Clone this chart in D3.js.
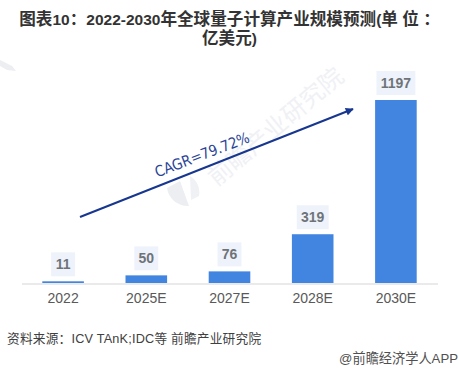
<!DOCTYPE html>
<html>
<head>
<meta charset="utf-8">
<script src="https://cdn.jsdelivr.net/npm/d3@7"></script>
<style>
  html, body { margin: 0; padding: 0; background: #fff; }
  svg { display: block; }
  text { font-family: "Liberation Sans", "Noto Sans CJK SC", sans-serif; }
</style>
</head>
<body>
<div class="canvas"></div>
<script>
// data
const categories = ['2022', '2025E', '2027E', '2028E', '2030E'];
const values = [11, 50, 76, 319, 1197];
const titleLines = ['图表10：2022-2030年全球量子计算产业规模预测(单 位 ：', '亿美元)'];
const cagrLabel = 'CAGR=79.72%';
const sourceLabel = '资料来源：ICV TAnK;IDC等 前瞻产业研究院';
const creditLabel = '@前瞻经济学人APP';
const watermarkLabel = '前瞻产业研究院';

//dimensions
const dims = { width: 459, height: 371 };
const plot = { left: 21.5, right: 437.5, top: 100, bottom: 283 };

const svg = d3.select('.canvas')
  .append('svg')
  .attr('width', dims.width)
  .attr('height', dims.height);

//scales
const x = d3.scaleBand()
  .domain(categories)
  .range([plot.left, plot.right])
  .paddingInner(0.5)
  .paddingOuter(0.25);

const y = d3.scaleLinear()
  .domain([0, 1197])
  .range([plot.bottom, plot.top]);

//watermark sits behind the chart
const mark = svg.append('g');

mark.append('text')
  .attr('transform', 'translate(281, 133) rotate(-40)')
  .attr('text-anchor', 'middle')
  .attr('font-size', 24)
  .attr('fill', '#f0f1f5')
  .text(watermarkLabel);

mark.append('path')
  .attr('d', 'M0 60 L12 66 L16 71 L7 70 L0 66 Z')
  .attr('fill', '#eceef2');

mark.append('path')
  .attr('d', 'M167 188 A21 21 0 0 0 189 206 L180 181 Z')
  .attr('fill', '#eceef2');

mark.append('path')
  .attr('d', 'M190 176 A19 19 0 0 1 199 196 L191 200 Z')
  .attr('fill', '#f0f1f5');

//title, chinese glyphs run a little larger than the latin ones
svg.append('g')
  .selectAll('text')
  .data(titleLines)
  .enter()
  .append('text')
    .attr('x', 229.5)
    .attr('y', (d, i) => 25 + i * 18.5)
    .attr('text-anchor', 'middle')
    .attr('font-weight', 'bold')
    .attr('fill', '#333')
    .each(function(d){
      const line = d3.select(this);
      d.match(/[\x20-\x7e]+|[^\x20-\x7e]+/g).forEach(part => {
        line.append('tspan')
          .attr('font-size', /[\x20-\x7e]/.test(part[0]) ? 15.5 : 16.6)
          .attr('xml:space', 'preserve')
          .text(part);
      });
    });

//bars
svg.append('g')
  .selectAll('rect')
  .data(values)
  .enter()
  .append('rect')
    .attr('x', (d, i) => x(categories[i]))
    .attr('y', d => y(d))
    .attr('width', x.bandwidth())
    .attr('height', d => y(0) - y(d))
    .attr('fill', '#4285e0');

//x axis
const xAxis = d3.axisBottom(x).tickSize(0).tickPadding(10);

const xGroup = svg.append('g')
  .attr('transform', `translate(0, ${plot.bottom + 0.5})`)
  .call(xAxis);

xGroup.select('.domain')
  .attr('stroke', '#e3e3e3')
  .attr('stroke-width', 1.5);

xGroup.selectAll('text')
  .attr('font-size', 14)
  .attr('fill', '#595959')
  .style('font-family', '"Liberation Sans", sans-serif');

//value labels with pale boxes
const labels = svg.append('g')
  .selectAll('g')
  .data(values)
  .enter()
  .append('g')
    .attr('transform', (d, i) => `translate(${x(categories[i]) + x.bandwidth() / 2}, ${y(d) - 17})`);

labels.append('rect')
  .attr('x', d => String(d).length > 3 ? -19.5 : (String(d).length > 2 ? -16 : -12))
  .attr('y', -12)
  .attr('width', d => String(d).length > 3 ? 39 : (String(d).length > 2 ? 32 : 24))
  .attr('height', 24)
  .attr('fill', '#eef3fb');

labels.append('text')
  .attr('text-anchor', 'middle')
  .attr('dy', 5)
  .attr('font-size', 14)
  .attr('font-weight', 'bold')
  .attr('fill', '#6f7378')
  .text(d => d);

//growth arrow
svg.append('defs')
  .append('marker')
    .attr('id', 'arrow')
    .attr('viewBox', '0 0 10 10')
    .attr('refX', 9)
    .attr('refY', 5)
    .attr('markerWidth', 10)
    .attr('markerHeight', 8)
    .attr('markerUnits', 'userSpaceOnUse')
    .attr('orient', 'auto')
  .append('path')
    .attr('d', 'M0 0 L10 5 L0 10 Z')
    .attr('fill', '#17368f');

svg.append('line')
  .attr('x1', 80)
  .attr('y1', 217)
  .attr('x2', 353)
  .attr('y2', 109)
  .attr('stroke', '#17368f')
  .attr('stroke-width', 2)
  .attr('marker-end', 'url(#arrow)');

svg.append('text')
  .attr('transform', 'translate(204, 159.5) rotate(-21)')
  .attr('text-anchor', 'middle')
  .attr('font-size', 15)
  .attr('textLength', 100)
  .attr('lengthAdjust', 'spacingAndGlyphs')
  .attr('fill', '#2a4496')
  .style('font-family', '"DejaVu Sans", sans-serif')
  .text(cagrLabel);

//footer
svg.append('text')
  .attr('x', 7)
  .attr('y', 343)
  .attr('font-size', 12.7)
  .attr('letter-spacing', 0.2)
  .attr('fill', '#404040')
  .text(sourceLabel);

svg.append('text')
  .attr('x', 458)
  .attr('y', 363)
  .attr('text-anchor', 'end')
  .attr('font-size', 13.2)
  .attr('fill', '#505050')
  .text(creditLabel);
</script>
</body>
</html>
